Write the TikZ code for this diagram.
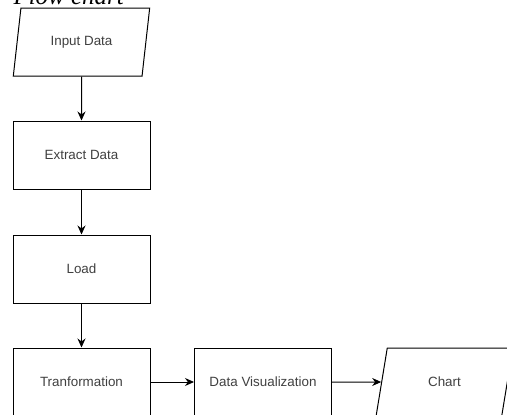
\documentclass[tikz,border=0pt]{standalone}
\usepackage{fontspec}
\setmainfont{Liberation Serif}
\setsansfont{Liberation Sans}
\usetikzlibrary{arrows.meta,shapes.geometric}

\begin{document}
\begin{tikzpicture} [x=1pt,y=-1pt,->,>={Stealth[length=9pt,width=8pt]},line width=1pt,
    process node/.style={rectangle,draw,fill=white,align=center,
      font=\sffamily\fontsize{13.4}{16}\selectfont,text=black!75,
      minimum width=137pt,minimum height=68pt,inner sep=0pt},
    io node/.style={trapezium,trapezium left angle=72,trapezium right angle=108,
      trapezium stretches=true,draw,fill=white,align=center,
      font=\sffamily\fontsize{13.4}{16}\selectfont,text=black!75,
      minimum width=137pt,minimum height=68pt,inner sep=0pt}]

  \useasboundingbox (0,0) rectangle (507,415);

  % title, partly above the page
  \node[anchor=base west,inner sep=0pt,font=\itshape\fontsize{25}{30}\selectfont] (title) at (13,5) {Flow chart};

  % the nodes of the chart
  \node [io node] (input) at (81.5,42) {Input Data};
  \node [process node] (extract) at (81.5,155) {Extract Data};
  \node [process node] (load) at (81.5,269) {Load};
  \node [process node] (transform) at (81.5,382) {Tranformation};
  \node [process node] (visual) at (263,382) {Data Visualization};
  \node [io node] (chart) at (444.5,382) {Chart};

  % connectors between the nodes
  \draw[->] (input) to (extract);
  \draw[->] (extract) to (load);
  \draw[->] (load) to (transform);
  \draw[->] (transform) to (visual);
  \draw[->] (visual) to (chart);

\end{tikzpicture}
\end{document}
